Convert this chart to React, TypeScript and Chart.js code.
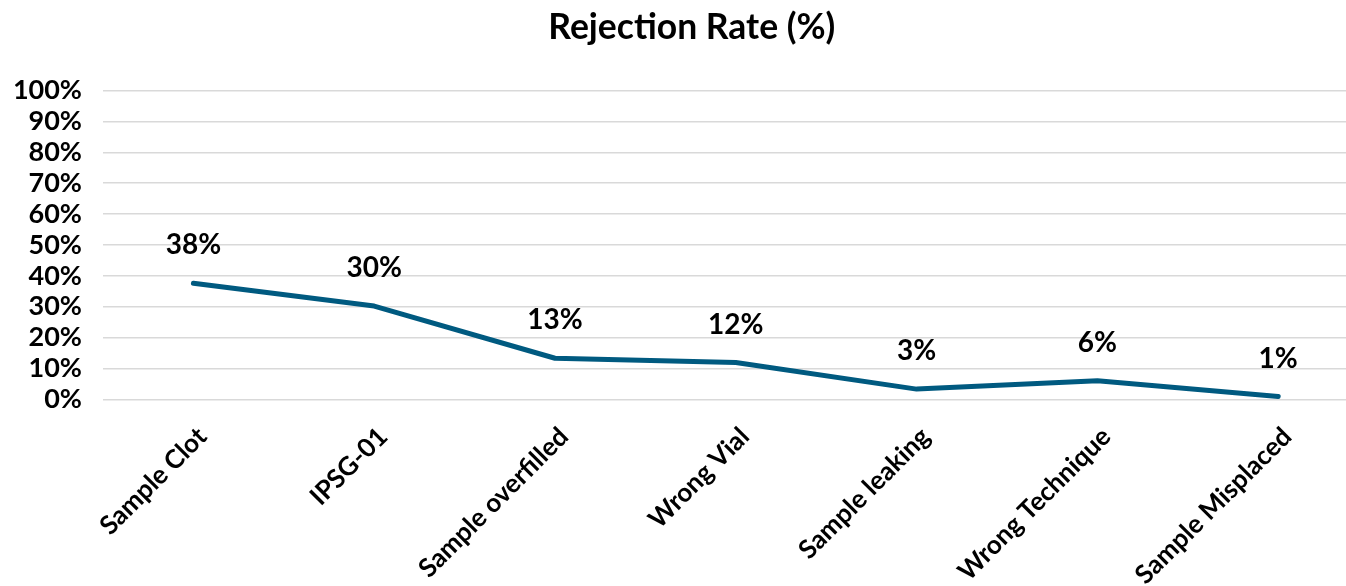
import React, { useEffect, useRef } from "react";
import { Chart, registerables } from "chart.js";

Chart.register(...registerables);

const categories: string[] = [
  "Sample Clot",
  "IPSG-01",
  "Sample overfilled",
  "Wrong Vial",
  "Sample leaking",
  "Wrong Technique",
  "Sample Misplaced",
];
const rejectionRate: number[] = [37.6, 30.2, 13.3, 11.9, 3.3, 6.0, 0.9];
const dataLabels: string[] = ["38%", "30%", "13%", "12%", "3%", "6%", "1%"];
const titleText = "Rejection Rate (%)";

const FONT = "Lato, 'Open Sans', 'Noto Sans', sans-serif";

const labelPlugin = {
  id: "pointLabels",
  afterDatasetsDraw(chart: any) {
    const ctx = chart.ctx;
    const meta = chart.getDatasetMeta(0);
    ctx.save();
    ctx.font = `bold 28px ${FONT}`;
    ctx.fillStyle = "#000";
    ctx.textAlign = "center";
    ctx.textBaseline = "middle";
    meta.data.forEach((pt: any, i: number) => {
      ctx.fillText(dataLabels[i], pt.x, pt.y - 38);
    });
    ctx.restore();
  },
};

export default function App() {
  const canvasRef = useRef<HTMLCanvasElement | null>(null);

  useEffect(() => {
    if (!canvasRef.current) return;
    const chart = new Chart(canvasRef.current, {
      type: "line",
      data: {
        labels: categories,
        datasets: [
          {
            label: titleText,
            data: rejectionRate,
            borderColor: "#005a80",
            borderWidth: 5,
            pointRadius: 0,
            pointHoverRadius: 0,
            tension: 0,
            borderCapStyle: "round",
            borderJoinStyle: "round",
            fill: false,
          },
        ],
      },
      options: {
        animation: false,
        responsive: true,
        maintainAspectRatio: false,
        layout: { padding: { left: 15, top: 0, bottom: 0, right: 15.4 } },
        plugins: {
          legend: { display: false },
          tooltip: { enabled: false },
          title: {
            display: true,
            text: titleText,
            color: "#000",
            font: { family: FONT, size: 35.5, weight: "bold", lineHeight: 1.2 },
            padding: { top: 6, bottom: 42 },
          },
        },
        scales: {
          x: {
            type: "category",
            offset: true,
            grid: { display: false, drawTicks: false },
            border: { display: false },
            ticks: {
              color: "#000",
              font: { family: FONT, size: 26, weight: "bold" },
              minRotation: 45,
              maxRotation: 45,
              padding: 22,
              labelOffset: 9,
              autoSkip: false,
            },
            afterFit(scale: any) {
              scale.height = 186.7;
              scale.paddingLeft = 0;
              scale.paddingRight = 0;
            },
          },
          y: {
            min: 0,
            max: 100,
            grid: { color: "#d9d9d9", lineWidth: 1.5, drawTicks: false },
            border: { display: false },
            ticks: {
              stepSize: 10,
              autoSkip: false,
              color: "#000",
              padding: 21,
              font: { family: FONT, size: 27, weight: "bold" },
              callback: (v: any) => `${v}%`,
            },
            afterFit(scale: any) {
              scale.width = 88;
            },
          },
        },
      },
      plugins: [labelPlugin],
    });
    return () => chart.destroy();
  }, []);

  return (
    <div
      style={{
        position: "absolute",
        left: 0,
        top: 0,
        width: 1346,
        height: 586,
        overflow: "hidden",
        background: "#fff",
      }}
    >
      <div style={{ position: "relative", width: 1384, height: 586 }}>
        <canvas ref={canvasRef} />
      </div>
    </div>
  );
}
